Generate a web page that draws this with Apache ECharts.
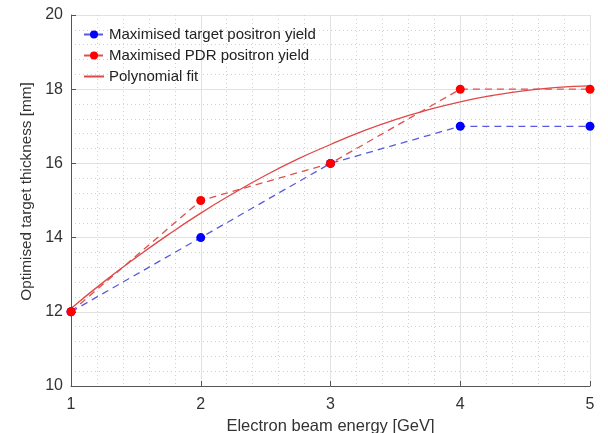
<!DOCTYPE html>
<html><head><meta charset="utf-8">
<script src="https://cdn.jsdelivr.net/npm/echarts@6/dist/echarts.min.js"></script>
<style>html,body{margin:0;padding:0;background:#fff}#c{width:608px;height:433px}</style>
</head><body><div id="c"></div>
<script>
const energies = [1, 2, 3, 4, 5];
const targetYield = [12, 14, 16, 17, 17];
const pdrYield = [12, 15, 16, 18, 18];
const fitX = [1, 1.25, 1.5, 1.75, 2, 2.25, 2.5, 2.75, 3, 3.25, 3.5, 3.75, 4, 4.25, 4.5, 4.75, 5];
const fitY = [12.09, 12.80, 13.46, 14.08, 14.66, 15.19, 15.68, 16.12, 16.51, 16.87, 17.18, 17.44, 17.66, 17.83, 17.96, 18.05, 18.09];
const xTitle = 'Electron beam energy [GeV]';
const yTitle = 'Optimised target thickness [mm]';

const font = 'Liberation Sans, Arial, sans-serif';
const chart = echarts.init(document.getElementById('c'));
const pair = (xs, ys) => xs.map((x, i) => [x, ys[i]]);
chart.setOption({
  animation: false,
  grid: {left: 71, right: 18, top: 15, bottom: 47, containLabel: false, outerBoundsMode: 'none'},
  legend: {
    left: 78, top: 22, orient: 'vertical', itemGap: 6, itemWidth: 20, itemHeight: 10,
    textStyle: {fontFamily: font, fontSize: 15, color: '#222'},
    data: [
      {name: 'Maximised target positron yield'},
      {name: 'Maximised PDR positron yield'},
      {name: 'Polynomial fit', itemStyle: {opacity: 0}}
    ]
  },
  xAxis: {
    type: 'value', min: 1, max: 5, interval: 1,
    name: xTitle, nameLocation: 'middle', nameGap: 27,
    nameTextStyle: {fontFamily: font, fontSize: 16.5, color: '#333'},
    axisLine: {show: true, lineStyle: {color: '#555', width: 1}},
    axisTick: {show: true, inside: true, length: 5, lineStyle: {color: '#555'}},
    axisLabel: {fontFamily: font, fontSize: 16, color: '#333', margin: 11},
    splitLine: {show: true, lineStyle: {color: '#e2e2e2', width: 1}},
    minorTick: {show: false, splitNumber: 5},
    minorSplitLine: {show: true, lineStyle: {color: '#d0d0d0', type: [1, 3], width: 1}}
  },
  yAxis: {
    type: 'value', min: 10, max: 20, interval: 2,
    name: yTitle, nameLocation: 'middle', nameGap: 31,
    nameTextStyle: {fontFamily: font, fontSize: 15.3, color: '#333', padding: [0, 0, 0, 18]},
    axisLine: {show: true, lineStyle: {color: '#555', width: 1}},
    axisTick: {show: true, inside: true, length: 5, lineStyle: {color: '#555'}},
    axisLabel: {fontFamily: font, fontSize: 16, color: '#333', margin: 8},
    splitLine: {show: true, lineStyle: {color: '#e2e2e2', width: 1}},
    minorTick: {show: false, splitNumber: 5},
    minorSplitLine: {show: true, lineStyle: {color: '#d0d0d0', type: [1, 3], width: 1}}
  },
  series: [
    {
      name: 'Maximised target positron yield', type: 'line',
      data: pair(energies, targetYield),
      symbol: 'circle', symbolSize: 9,
      itemStyle: {color: '#0000ff'},
      lineStyle: {color: '#5a5ae0', width: 1.3, type: [7, 5]}
    },
    {
      name: 'Maximised PDR positron yield', type: 'line',
      data: pair(energies, pdrYield),
      symbol: 'circle', symbolSize: 9,
      itemStyle: {color: '#ff0000'},
      lineStyle: {color: '#e05050', width: 1.3, type: [7, 5]}
    },
    {
      name: 'Polynomial fit', type: 'line',
      data: pair(fitX, fitY), smooth: true,
      symbol: 'none',
      itemStyle: {color: '#e04848'},
      lineStyle: {color: '#e04848', width: 1.3}
    }
  ]
});
</script></body></html>
